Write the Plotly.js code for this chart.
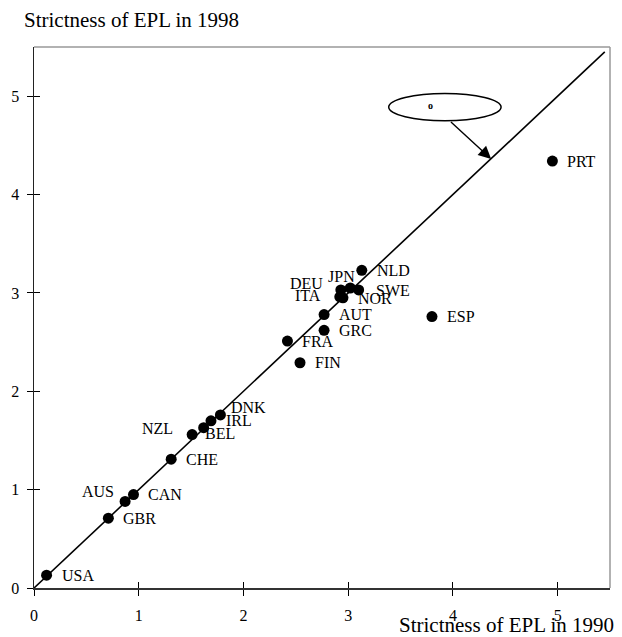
<!DOCTYPE html>
<html>
<head>
<meta charset="utf-8">
<script src="https://cdn.plot.ly/plotly-3.0.1.min.js"></script>
<style>html,body{margin:0;padding:0;background:#fff}#chart{width:622px;height:637px}</style>
</head>
<body>
<div id="chart"></div>
<script>
// ---- data ----
var countries = ["USA","GBR","AUS","CAN","CHE","BEL","NZL","IRL","DNK","FRA","FIN","GRC","AUT","ITA","NOR","DEU","JPN","SWE","NLD","ESP","PRT"];
var epl1990   = [0.12, 0.71, 0.87, 0.95, 1.31, 1.51, 1.62, 1.69, 1.78, 2.42, 2.54, 2.77, 2.77, 2.92, 2.95, 2.93, 3.02, 3.10, 3.13, 3.80, 4.95];
var epl1998   = [0.13, 0.71, 0.88, 0.95, 1.31, 1.56, 1.63, 1.70, 1.76, 2.51, 2.29, 2.62, 2.78, 2.96, 2.95, 3.03, 3.05, 3.03, 3.23, 2.76, 4.34];
var diagonal  = [0, 5.45];
var tickVals  = [0, 1, 2, 3, 4, 5];
var tickText  = ["0", "1", "2", "3", "4", "5"];

// ---- label placement (pixel offsets from the marker) ----
var labelPos = {
  AUS: {anchor: "right", dx: -9, dy: 10},
  NZL: {anchor: "right", dx: -29, dy: -1},
  BEL: {anchor: "left", dx: 11, dy: 1},
  DNK: {anchor: "left", dx: 9, dy: 7},
  DEU: {anchor: "right", dx: -16, dy: 6},
  JPN: {anchor: "center", dx: -9, dy: 11},
  ITA: {anchor: "right", dx: -17, dy: 1},
  SWE: {anchor: "left", dx: 15, dy: -1},
  NOR: {anchor: "left", dx: 13, dy: -1}
};

var serif = "Liberation Serif, Times New Roman, serif";

var traces = [
  {x: diagonal, y: diagonal, mode: "lines", line: {color: "#000", width: 1.6}, hoverinfo: "skip", showlegend: false},
  {x: epl1990, y: epl1998, text: countries, mode: "markers", marker: {color: "#000", size: 11}, hoverinfo: "text", showlegend: false},
  {x: [], y: [], xaxis: "x2", yaxis: "y2", mode: "markers", hoverinfo: "skip", showlegend: false}
];

var annotations = countries.map(function (c, i) {
  var p = labelPos[c] || {anchor: "left", dx: 13, dy: 0};
  return {
    x: epl1990[i], y: epl1998[i], xref: "x", yref: "y",
    text: c, showarrow: false, xanchor: p.anchor, yanchor: "middle",
    xshift: p.dx, yshift: p.dy,
    font: {family: serif, size: 16, color: "#000"}
  };
});

annotations.push({
  xref: "paper", yref: "paper", x: 0, y: 1, xshift: -12, yshift: 27,
  xanchor: "left", yanchor: "middle", showarrow: false,
  text: "Strictness of EPL in 1998", font: {family: serif, size: 21, color: "#000"}
});
annotations.push({
  xref: "paper", yref: "paper", x: 1, y: 0, xshift: 6, yshift: -37,
  xanchor: "right", yanchor: "middle", showarrow: false,
  text: "Strictness of EPL in 1990", font: {family: serif, size: 21, color: "#000"}
});
// arrow from ellipse to the 45-degree line
annotations.push({
  x: 4.365, y: 4.362, xref: "x", yref: "y",
  ax: 3.967, ay: 4.751, axref: "x", ayref: "y",
  text: "", showarrow: true, arrowhead: 2, arrowsize: 1.8, arrowwidth: 1.4, arrowcolor: "#000"
});
annotations.push({
  x: 3.785, y: 4.91, xref: "x", yref: "y", showarrow: false,
  text: "<b>o</b>", font: {family: serif, size: 10, color: "#000000"}
});

var axisBase = {
  range: [0, 5.5], tickvals: tickVals, ticktext: tickText,
  showgrid: false, zeroline: false, showline: true,
  ticks: "outside", ticklen: 6, tickwidth: 1, tickcolor: "#000",
  tickfont: {family: serif, size: 16, color: "#000"}
};

var layout = {
  width: 622, height: 637,
  margin: {l: 34, r: 12, t: 47, b: 49},
  paper_bgcolor: "#fff", plot_bgcolor: "#fff",
  showlegend: false,
  xaxis: Object.assign({}, axisBase, {linecolor: "#333", linewidth: 2, ticklabelstandoff: 6}),
  yaxis: Object.assign({}, axisBase, {linecolor: "#222", linewidth: 1.5, ticklabelstandoff: 4}),
  xaxis2: {range: [0, 5.5], overlaying: "x", anchor: "y2", tickvals: tickVals, ticks: "inside", ticklen: 6, tickwidth: 1, tickcolor: "#000", showticklabels: false, showgrid: false, zeroline: false, showline: false},
  yaxis2: {range: [0, 5.5], overlaying: "y", anchor: "x2", tickvals: tickVals, ticks: "inside", ticklen: 6, tickwidth: 1, tickcolor: "#000", showticklabels: false, showgrid: false, zeroline: false, showline: false},
  shapes: [
    {type: "line", xref: "paper", yref: "paper", x0: 0, x1: 1, y0: 1, y1: 1, line: {color: "#999", width: 1.5}},
    {type: "line", xref: "paper", yref: "paper", x0: 1, x1: 1, y0: 0, y1: 1, line: {color: "#999", width: 1.5}},
    {type: "circle", xref: "x", yref: "y", x0: 3.387, x1: 4.46, y0: 4.751, y1: 5.028, line: {color: "#000", width: 1.5}, fillcolor: "#fff"}
  ],
  annotations: annotations
};

Plotly.newPlot("chart", traces, layout, {displayModeBar: false, staticPlot: true});
</script>
</body>
</html>
